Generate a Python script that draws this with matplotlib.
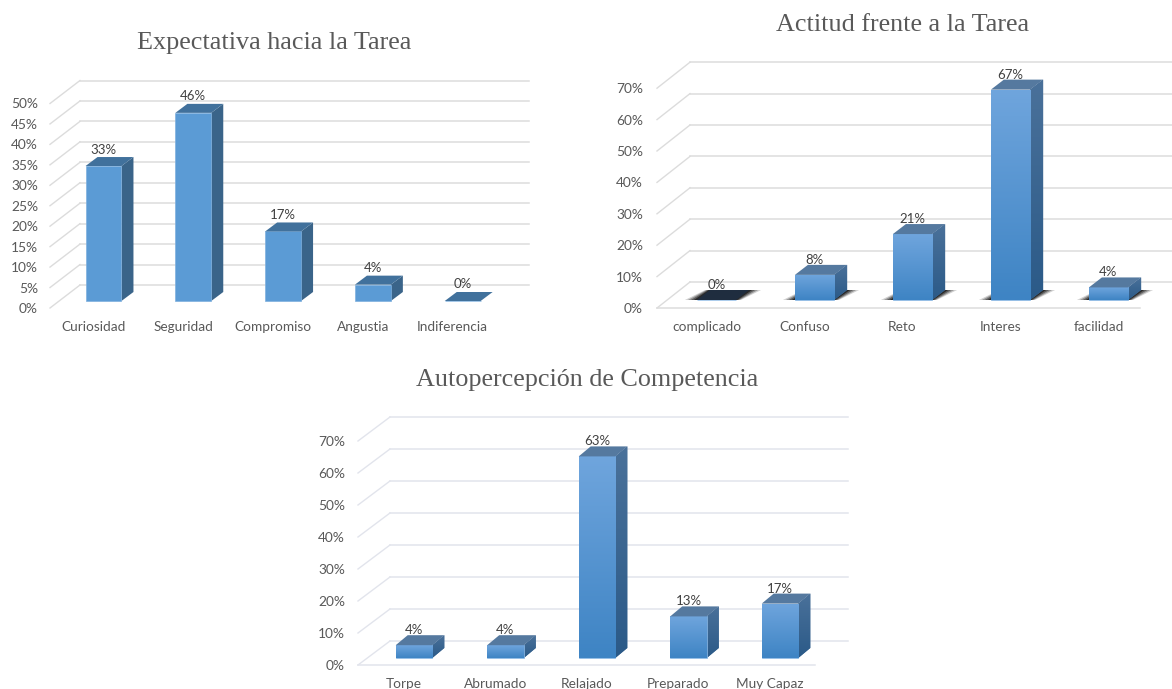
import numpy as np
import matplotlib
matplotlib.use("Agg")
import matplotlib.pyplot as plt
from matplotlib.patches import Polygon
from matplotlib.colors import to_rgb

W, H = 1172, 689
DPI = 100

# ---- data ----
cats_a = ["Curiosidad", "Seguridad", "Compromiso", "Angustia", "Indiferencia"]
vals_a = [33, 46, 17, 4, 0]
ticks_a = [0, 5, 10, 15, 20, 25, 30, 35, 40, 45, 50]
title_a = "Expectativa hacia la Tarea"

cats_b = ["complicado", "Confuso", "Reto", "Interes", "facilidad"]
vals_b = [0, 8, 21, 67, 4]
ticks_b = [0, 10, 20, 30, 40, 50, 60, 70]
title_b = "Actitud frente a la Tarea"

cats_c = ["Torpe", "Abrumado", "Relajado", "Preparado", "Muy Capaz"]
vals_c = [4, 4, 63, 13, 17]
ticks_c = [0, 10, 20, 30, 40, 50, 60, 70]
title_c = "Autopercepción de Competencia"

plt.rcParams["font.family"] = ["Lato", "DejaVu Sans"]
fig = plt.figure(figsize=(W / DPI, H / DPI), dpi=DPI, facecolor="white")


def vgrad(ax, clip, y_bottom, y_top, top, bottom):
    """Vertical colour gradient clipped to a patch."""
    t, b = np.array(to_rgb(top)), np.array(to_rgb(bottom))
    f = np.linspace(0, 1, 64)[:, None]
    img = (t * (1 - f) + b * f)[:, None, :]
    xl, yl = ax.get_xlim(), ax.get_ylim()
    im = ax.imshow(img, extent=(xl[0], xl[1], y_bottom, y_top), origin="upper",
                   aspect="auto", zorder=clip.get_zorder() + 0.1, interpolation="bilinear")
    im.set_clip_path(clip)
    ax.set_xlim(xl)
    ax.set_ylim(yl)


def chart(cats, vals, ticks, title, c0, step, y0, ppu, bar_base, back, wall_right,
          floor_right, label_right, depth, title_xy, grid, colors, label_off, shadow=False):
    n = len(cats)
    left = c0 - step / 2
    right = c0 + step * (n - 0.5)
    top = y0 - ppu * ticks[-1] - 40
    ax = fig.add_axes([left / W, 1 - y0 / H, (right - left) / W, (y0 - top) / H])
    ax.set_xlim(-0.5, n - 0.5)
    ax.set_ylim(0, (y0 - top) / ppu)
    ax.patch.set_alpha(0)
    for s in ax.spines.values():
        s.set_visible(False)

    px = lambda p: (p - left) / step - 0.5
    base = (y0 - bar_base) / ppu
    ddx, ddy = depth[0] / step, depth[1] / ppu
    bx0, by0 = px(back[0]), (y0 - back[1]) / ppu
    fx0 = px(back[2])
    wall_x1 = px(wall_right)

    for t in ticks:
        ax.plot([fx0, bx0], [t, by0 + t], color=grid, lw=1.0, zorder=1, clip_on=False)
        ax.plot([bx0, wall_x1], [by0 + t, by0 + t], color=grid, lw=1.1, zorder=1, clip_on=False)
    if floor_right:
        ax.plot([fx0, px(floor_right)], [0, 0], color=grid, lw=1.1, zorder=1, clip_on=False)

    width = 0.4
    xs = np.arange(n)
    ytop = np.array(vals, dtype=float) + base

    if shadow:
        for x, yt in zip(xs, ytop):
            for g, a in ((12, 0.18), (9, 0.28), (6, 0.38), (3, 0.55)):
                gx = g / step
                yb = base
                verts = [(x - width / 2 - gx, yb), (x + width / 2 + gx * 0.4, yb),
                         (x + width / 2 + ddx + gx, yb + ddy), (x - width / 2 + ddx - gx * 0.4, yb + ddy)]
                ax.add_patch(Polygon(verts, closed=True, fc="black", ec="none", alpha=a, zorder=2))

    bars = ax.bar(xs, vals, width=width, bottom=base, color=colors["front_top"],
                  edgecolor=colors["edge"], linewidth=0.5, zorder=4)
    for b, v, x, yt in zip(bars, vals, xs, ytop):
        xr = x + width / 2
        xl = x - width / 2
        side = Polygon([(xr, base), (xr + ddx, base + ddy), (xr + ddx, yt + ddy), (xr, yt)],
                       closed=True, fc=colors["side_top"], ec="none", zorder=3)
        topf = Polygon([(xl, yt), (xr, yt), (xr + ddx, yt + ddy), (xl + ddx, yt + ddy)],
                       closed=True, fc=colors["zero"] if (v == 0) else colors["top"],
                       ec="none", zorder=4.5)
        ax.add_patch(side)
        ax.add_patch(topf)
        if v > 0 and colors["front_top"] != colors["front_bot"]:
            vgrad(ax, b, base, yt, colors["front_top"], colors["front_bot"])
            vgrad(ax, side, base, yt + ddy, colors["side_top"], colors["side_bot"])
        ax.annotate(f"{v}%", (x, yt), xytext=(0, label_off * 72 / DPI), textcoords="offset points",
                    ha="center", va="center", fontsize=9.5, color="#404040", zorder=6)

    ax.set_yticks(ticks)
    ax.set_yticklabels([f"{t}%" for t in ticks])
    ax.set_xticks(xs - 10 / step)
    ax.set_xticklabels(cats)
    ax.tick_params(axis="y", length=0, pad=(left - label_right) * 72 / DPI,
                   labelsize=9.9, labelcolor="#595959")
    ax.tick_params(axis="x", length=0, pad=13 * 72 / DPI, labelsize=9.8, labelcolor="#595959")

    ax.text((title_xy[0] - left) / (right - left), (y0 - title_xy[1]) / (y0 - top), title,
            transform=ax.transAxes, ha="center", va="center", clip_on=False,
            family="Liberation Serif", fontsize=18.8, color="#595959")


flat = dict(front_top="#5b9bd5", front_bot="#5b9bd5", side_top="#3a6489", side_bot="#3a6489",
            top="#41719c", zero="#41719c", edge="#7fb0de")
grad = dict(front_top="#6fa5dd", front_bot="#3e84c4", side_top="#4a719a", side_bot="#2b5a88",
            top="#55799f", zero="#1f2d3f", edge="#8ab8e4")

chart(cats_a, vals_a, ticks_a, title_a, c0=103.5, step=89.8, y0=308, ppu=4.09, bar_base=301,
      back=(80, 285, 50), wall_right=529, floor_right=None, label_right=38,
      depth=(12, 9), title_xy=(274, 43), grid="#dcdcdc", colors=flat, label_off=16.5)
chart(cats_b, vals_b, ticks_b, title_b, c0=716.5, step=98, y0=308, ppu=3.14, bar_base=300,
      back=(690, 282, 657), wall_right=1172, floor_right=1140, label_right=643,
      depth=(13, 10), title_xy=(903, 25), grid="#dcdcdc", colors=grad, label_off=15, shadow=True)
chart(cats_c, vals_c, ticks_c, title_c, c0=414, step=91.5, y0=665, ppu=3.2, bar_base=658,
      back=(390, 641, 358), wall_right=848, floor_right=815, label_right=345,
      depth=(12, 10), title_xy=(587, 380), grid="#e2e4ec", colors=grad, label_off=15)

fig.savefig("out.png", dpi=DPI, facecolor="white")
